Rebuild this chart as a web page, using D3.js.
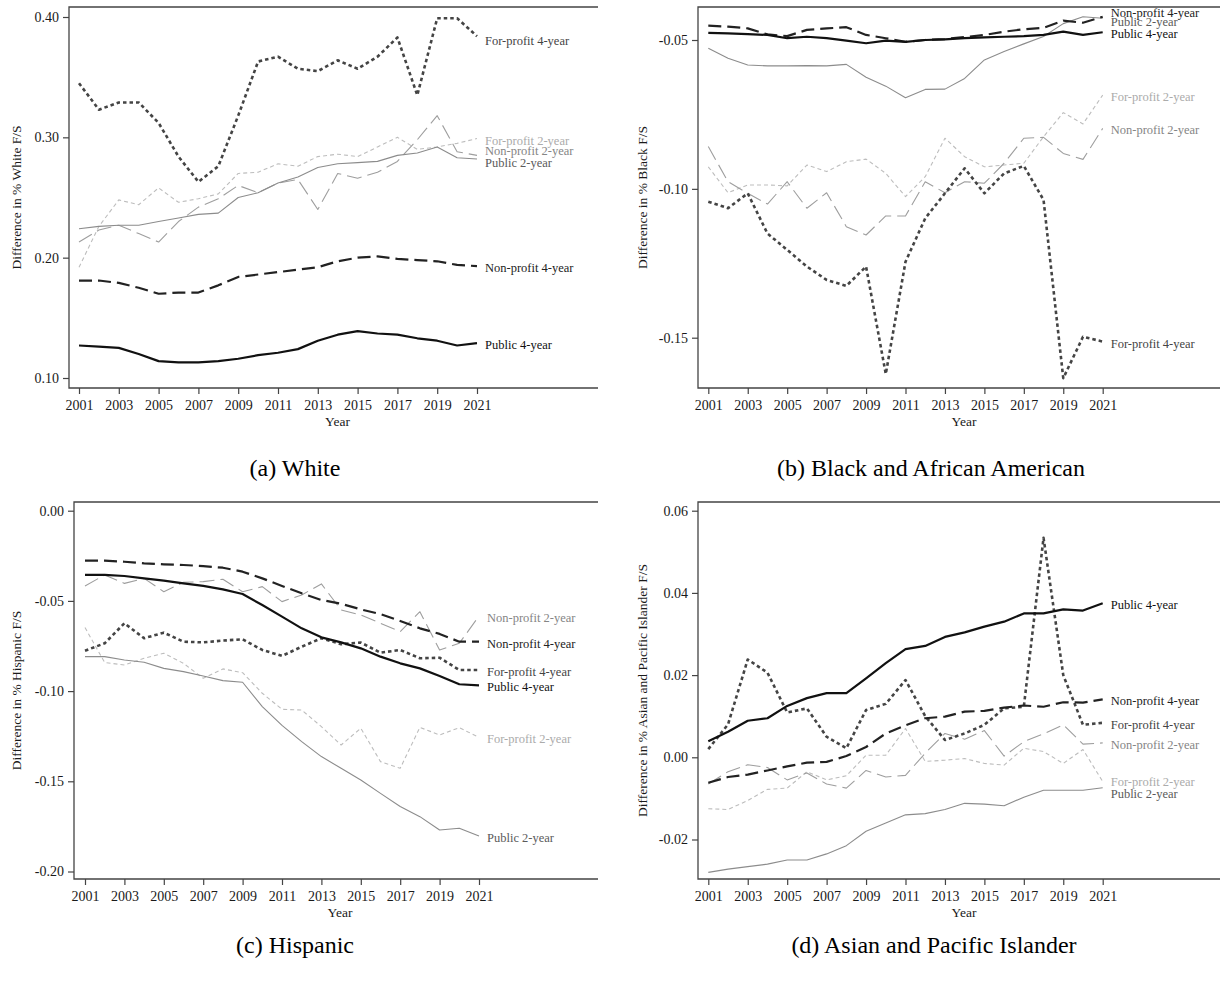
<!DOCTYPE html>
<html>
<head>
<meta charset="utf-8">
<script src="https://cdn.jsdelivr.net/npm/d3@7"></script>
<style>
  body { margin: 0; background: #fff; }
  svg { display: block; }
  text { font-family: "Liberation Serif", "Times New Roman", serif; }
</style>
</head>
<body>
<svg id="chart" width="1220" height="982"></svg>
<script>
// ---------- data ----------
const years = [2001,2002,2003,2004,2005,2006,2007,2008,2009,2010,2011,2012,2013,2014,2015,2016,2017,2018,2019,2020,2021];
const tickYears = [2001,2003,2005,2007,2009,2011,2013,2015,2017,2019,2021];
const seriesNames = ["For-profit 2-year","Non-profit 2-year","Public 2-year","For-profit 4-year","Non-profit 4-year","Public 4-year"];

// (a) White
const whitePublic4    = [0.127,0.126,0.125,0.120,0.114,0.113,0.113,0.114,0.116,0.119,0.121,0.124,0.131,0.136,0.139,0.137,0.136,0.133,0.131,0.127,0.129];
const whiteNonprofit4 = [0.181,0.181,0.179,0.175,0.170,0.171,0.171,0.177,0.184,0.186,0.188,0.190,0.192,0.197,0.200,0.201,0.199,0.198,0.197,0.194,0.193];
const whiteForprofit4 = [0.345,0.323,0.329,0.329,0.312,0.284,0.263,0.276,0.318,0.363,0.367,0.357,0.355,0.364,0.357,0.367,0.383,0.335,0.399,0.399,0.384];
const whitePublic2    = [0.224,0.226,0.227,0.227,0.230,0.233,0.236,0.237,0.250,0.254,0.262,0.267,0.275,0.278,0.279,0.280,0.285,0.287,0.292,0.283,0.282];
const whiteNonprofit2 = [0.213,0.223,0.227,0.220,0.213,0.230,0.242,0.249,0.260,0.254,0.262,0.265,0.240,0.270,0.266,0.271,0.280,0.298,0.318,0.288,0.285];
const whiteForprofit2 = [0.192,0.226,0.248,0.244,0.258,0.246,0.249,0.253,0.270,0.271,0.278,0.276,0.284,0.286,0.284,0.292,0.300,0.290,0.292,0.295,0.299];
const whiteTicks = [0.10,0.20,0.30,0.40];

// (b) Black and African American
const blackPublic4    = [-0.0476,-0.0478,-0.0480,-0.0483,-0.0494,-0.0489,-0.0494,-0.0502,-0.0511,-0.0502,-0.0506,-0.0500,-0.0498,-0.0494,-0.0491,-0.0489,-0.0487,-0.0483,-0.0472,-0.0483,-0.0474];
const blackNonprofit4 = [-0.0452,-0.0455,-0.0461,-0.0481,-0.0487,-0.0466,-0.0461,-0.0457,-0.0483,-0.0494,-0.0506,-0.0500,-0.0497,-0.0490,-0.0483,-0.0472,-0.0464,-0.0459,-0.0435,-0.0442,-0.0422];
const blackForprofit4 = [-0.1043,-0.1065,-0.1015,-0.1150,-0.1205,-0.1261,-0.1306,-0.1326,-0.1261,-0.1622,-0.1245,-0.1099,-0.1015,-0.0931,-0.1015,-0.0948,-0.0923,-0.1037,-0.1636,-0.1497,-0.1513];
const blackPublic2    = [-0.0528,-0.0561,-0.0584,-0.0587,-0.0587,-0.0586,-0.0587,-0.0582,-0.0625,-0.0655,-0.0694,-0.0666,-0.0665,-0.0629,-0.0567,-0.0539,-0.0513,-0.0488,-0.0445,-0.0422,-0.0427];
const blackNonprofit2 = [-0.0858,-0.0976,-0.1015,-0.1051,-0.0976,-0.1065,-0.1013,-0.1127,-0.1155,-0.1091,-0.1091,-0.0976,-0.1013,-0.0976,-0.0981,-0.0914,-0.0830,-0.0827,-0.0881,-0.0901,-0.0797];
const blackForprofit2 = [-0.0926,-0.1013,-0.0987,-0.0987,-0.0990,-0.0920,-0.0942,-0.0909,-0.0900,-0.0948,-0.1026,-0.0959,-0.0830,-0.0892,-0.0926,-0.0920,-0.0914,-0.0825,-0.0744,-0.0782,-0.0685];
const blackTicks = [-0.15,-0.10,-0.05];

// (c) Hispanic
const hispPublic4    = [-0.0356,-0.0356,-0.0362,-0.0375,-0.0388,-0.0403,-0.0417,-0.0436,-0.0462,-0.0523,-0.0587,-0.0652,-0.0702,-0.0730,-0.0763,-0.0809,-0.0846,-0.0874,-0.0916,-0.0962,-0.0968];
const hispNonprofit4 = [-0.0277,-0.0277,-0.0283,-0.0292,-0.0297,-0.0301,-0.0307,-0.0316,-0.0338,-0.0375,-0.0417,-0.0458,-0.0495,-0.0516,-0.0547,-0.0573,-0.0611,-0.0652,-0.0683,-0.0726,-0.0726];
const hispForprofit4 = [-0.0776,-0.0735,-0.0624,-0.0707,-0.0676,-0.0726,-0.0730,-0.0720,-0.0713,-0.0772,-0.0805,-0.0754,-0.0707,-0.0740,-0.0731,-0.0787,-0.0772,-0.0818,-0.0815,-0.0883,-0.0883];
const hispPublic2    = [-0.0809,-0.0809,-0.0828,-0.0840,-0.0874,-0.0892,-0.0916,-0.0942,-0.0951,-0.1086,-0.1190,-0.1280,-0.1363,-0.1428,-0.1493,-0.1567,-0.1640,-0.1696,-0.1770,-0.1760,-0.1803];
const hispNonprofit2 = [-0.0417,-0.0356,-0.0403,-0.0375,-0.0449,-0.0397,-0.0393,-0.0380,-0.0449,-0.0421,-0.0504,-0.0467,-0.0406,-0.0550,-0.0578,-0.0624,-0.0670,-0.0560,-0.0772,-0.0735,-0.0584];
const hispForprofit2 = [-0.0648,-0.0842,-0.0855,-0.0818,-0.0790,-0.0846,-0.0929,-0.0877,-0.0898,-0.1012,-0.1101,-0.1105,-0.1197,-0.1299,-0.1206,-0.1391,-0.1428,-0.1201,-0.1243,-0.1203,-0.1256];
const hispTicks = [-0.20,-0.15,-0.10,-0.05,0.00];

// (d) Asian and Pacific Islander
const asianPublic4    = [0.0039,0.0062,0.0089,0.0095,0.0125,0.0144,0.0156,0.0156,0.0192,0.0229,0.0263,0.0271,0.0293,0.0304,0.0318,0.0330,0.0350,0.0350,0.0360,0.0357,0.0375];
const asianNonprofit4 = [-0.0062,-0.0048,-0.0042,-0.0032,-0.0022,-0.0013,-0.0011,0.0003,0.0025,0.0058,0.0078,0.0095,0.0099,0.0111,0.0113,0.0121,0.0126,0.0123,0.0134,0.0133,0.0141];
const asianForprofit4 = [0.0020,0.0080,0.0238,0.0206,0.0109,0.0119,0.0050,0.0022,0.0115,0.0130,0.0188,0.0100,0.0042,0.0058,0.0079,0.0119,0.0123,0.0534,0.0200,0.0079,0.0084];
const asianPublic2    = [-0.0280,-0.0272,-0.0266,-0.0260,-0.0250,-0.0250,-0.0235,-0.0215,-0.0180,-0.0160,-0.0140,-0.0137,-0.0127,-0.0112,-0.0114,-0.0118,-0.0097,-0.0080,-0.0080,-0.0080,-0.0074];
const asianNonprofit2 = [-0.0065,-0.0035,-0.0018,-0.0025,-0.0055,-0.0038,-0.0065,-0.0075,-0.0032,-0.0048,-0.0044,0.0010,0.0058,0.0044,0.0065,0.0003,0.0038,0.0057,0.0079,0.0032,0.0035];
const asianForprofit2 = [-0.0125,-0.0127,-0.0105,-0.0078,-0.0075,-0.0035,-0.0055,-0.0045,0.0005,0.0005,0.0070,-0.0010,-0.0007,-0.0003,-0.0015,-0.0019,0.0022,0.0014,-0.0015,0.0019,-0.0059];
const asianTicks = [-0.02,0.00,0.02,0.04,0.06];

// ---------- panels ----------
const panels = [
  { caption: "(a) White", yTitle: "Difference in % White F/S", ticks: whiteTicks,
    values: { "Public 4-year": whitePublic4, "Non-profit 4-year": whiteNonprofit4, "For-profit 4-year": whiteForprofit4,
              "Public 2-year": whitePublic2, "Non-profit 2-year": whiteNonprofit2, "For-profit 2-year": whiteForprofit2 } },
  { caption: "(b) Black and African American", yTitle: "Difference in % Black F/S", ticks: blackTicks,
    values: { "Public 4-year": blackPublic4, "Non-profit 4-year": blackNonprofit4, "For-profit 4-year": blackForprofit4,
              "Public 2-year": blackPublic2, "Non-profit 2-year": blackNonprofit2, "For-profit 2-year": blackForprofit2 } },
  { caption: "(c) Hispanic", yTitle: "Difference in % Hispanic F/S", ticks: hispTicks,
    values: { "Public 4-year": hispPublic4, "Non-profit 4-year": hispNonprofit4, "For-profit 4-year": hispForprofit4,
              "Public 2-year": hispPublic2, "Non-profit 2-year": hispNonprofit2, "For-profit 2-year": hispForprofit2 } },
  { caption: "(d) Asian and Pacific Islander", yTitle: "Difference in % Asian and Pacific Islander F/S", ticks: asianTicks,
    values: { "Public 4-year": asianPublic4, "Non-profit 4-year": asianNonprofit4, "For-profit 4-year": asianForprofit4,
              "Public 2-year": asianPublic2, "Non-profit 2-year": asianNonprofit2, "For-profit 2-year": asianForprofit2 } }
];

// plot-region geometry for each panel (pixels)
const layout = [
  { left: 69,  right: 598,  top: 7,   bottom: 388, xr: [79, 477],     yd: [0.10, 0.40],  yr: [378, 17],
    titleX: 16,  capX: 295, capY: 476, nudge: { "For-profit 4-year": 3, "Non-profit 2-year": -6, "Public 2-year": 2 } },
  { left: 698, right: 1222, top: 7,   bottom: 388, xr: [708.3, 1102.7], yd: [-0.15, -0.05], yr: [337.7, 40],
    titleX: 642, capX: 931, capY: 476, nudge: { "Non-profit 4-year": -6, "Public 2-year": 2 } },
  { left: 74,  right: 598,  top: 502, bottom: 879, xr: [85, 479],     yd: [-0.20, 0.00], yr: [871.5, 510.7],
    titleX: 16,  capX: 295, capY: 953, nudge: {} },
  { left: 698, right: 1222, top: 502, bottom: 879, xr: [708.3, 1102.7], yd: [-0.02, 0.06], yr: [839.5, 510.7],
    titleX: 642, capX: 934, capY: 953, nudge: { "Public 2-year": 4, "For-profit 2-year": -2 } }
];

// line and label styles per series
const styles = {
  "Public 4-year":     { stroke: "#111", width: 2.2, dash: null,    label: "#111" },
  "Non-profit 4-year": { stroke: "#222", width: 2.2, dash: "13,6",  label: "#222" },
  "For-profit 4-year": { stroke: "#444", width: 2.6, dash: "3.5,3", label: "#444" },
  "Public 2-year":     { stroke: "#8c8c8c", width: 1.1, dash: null,   label: "#5a5a5a" },
  "Non-profit 2-year": { stroke: "#9e9e9e", width: 1.1, dash: "15,6", label: "#858585" },
  "For-profit 2-year": { stroke: "#bdbdbd", width: 1.1, dash: "4,3",  label: "#ababab" }
};

const svg = d3.select("#chart");
const fmt = d => d.toFixed(2);

panels.forEach((p, i) => {
  const L = layout[i];
  const x = d3.scaleLinear().domain([years[0], years[years.length - 1]]).range(L.xr);
  const y = d3.scaleLinear().domain(L.yd).range(L.yr);
  const g = svg.append("g");

  // frame: left, top and bottom edges of the plot region
  g.append("path")
    .attr("d", `M${L.right},${L.top}H${L.left}V${L.bottom}H${L.right}`)
    .attr("fill", "none").attr("stroke", "#444").attr("stroke-width", 1.3);

  // y axis
  const ya = g.append("g").attr("transform", `translate(${L.left},0)`)
    .call(d3.axisLeft(y).tickValues(p.ticks).tickFormat(fmt).tickSize(6).tickSizeOuter(0).tickPadding(4));
  ya.select(".domain").remove();
  ya.selectAll("line").attr("stroke", "#444").attr("stroke-width", 1.2);
  ya.selectAll("text").attr("font-size", 14).attr("fill", "#1a1a1a")
    .style("font-family", '"Liberation Serif", serif');

  // x axis
  const xa = g.append("g").attr("transform", `translate(0,${L.bottom})`)
    .call(d3.axisBottom(x).tickValues(tickYears).tickFormat(d3.format("d")).tickSize(6).tickSizeOuter(0).tickPadding(6));
  xa.select(".domain").remove();
  xa.selectAll("line").attr("stroke", "#444").attr("stroke-width", 1.2);
  xa.selectAll("text").attr("font-size", 14).attr("fill", "#1a1a1a")
    .style("font-family", '"Liberation Serif", serif');

  // axis titles
  g.append("text")
    .attr("x", (L.left + L.right) / 2 + 4).attr("y", L.bottom + 38)
    .attr("text-anchor", "middle").attr("font-size", 13.5).attr("fill", "#1a1a1a")
    .text("Year");
  g.append("text")
    .attr("transform", `translate(${L.titleX},${(L.top + L.bottom) / 2}) rotate(-90)`)
    .attr("text-anchor", "middle").attr("dominant-baseline", "central")
    .attr("font-size", 13.5).attr("fill", "#1a1a1a")
    .text(p.yTitle);

  // series lines, lighter ones underneath
  const line = d3.line().x((d, k) => x(years[k])).y(d => y(d));
  seriesNames.forEach(name => {
    const s = styles[name];
    g.append("path")
      .datum(p.values[name])
      .attr("d", line)
      .attr("fill", "none")
      .attr("stroke", s.stroke)
      .attr("stroke-width", s.width)
      .attr("stroke-dasharray", s.dash)
      .attr("stroke-linejoin", "round");
  });

  // end-of-line labels
  seriesNames.forEach(name => {
    const vals = p.values[name];
    const last = vals[vals.length - 1];
    g.append("text")
      .attr("x", x(years[years.length - 1]) + 8)
      .attr("y", y(last) + 2 + (L.nudge[name] || 0))
      .attr("dominant-baseline", "central")
      .attr("font-size", 12.5)
      .attr("fill", styles[name].label)
      .text(name);
  });

  // caption
  svg.append("text")
    .attr("x", L.capX).attr("y", L.capY)
    .attr("text-anchor", "middle").attr("font-size", 24).attr("fill", "#000")
    .text(p.caption);
});
</script>
</body>
</html>
